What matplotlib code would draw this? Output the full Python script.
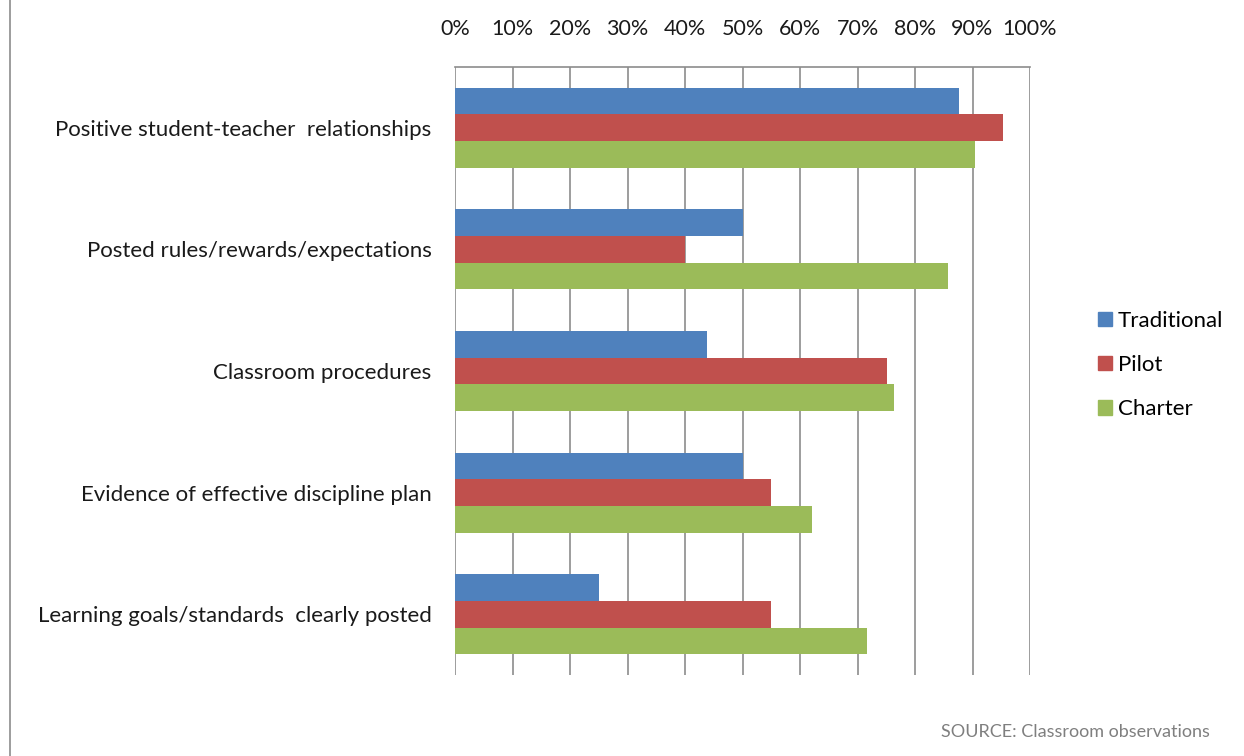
import matplotlib
matplotlib.use("Agg")
import matplotlib.pyplot as plt
import numpy as np
from matplotlib.lines import Line2D

categories = [
    "Positive student-teacher  relationships",
    "Posted rules/rewards/expectations",
    "Classroom procedures",
    "Evidence of effective discipline plan",
    "Learning goals/standards  clearly posted",
]
series_names = ["Traditional", "Pilot", "Charter"]
traditional = [87.6, 50.0, 43.8, 50.0, 25.1]
pilot = [95.3, 40.0, 75.1, 54.9, 54.9]
charter = [90.5, 85.7, 76.4, 62.0, 71.7]
x_ticks = [0, 10, 20, 30, 40, 50, 60, 70, 80, 90, 100]
x_tick_labels = [f"{t}%" for t in x_ticks]
source_note = "SOURCE: Classroom observations"

colors = ["#4F81BD", "#C0504D", "#9BBB59"]
font = ["Lato", "DejaVu Sans"]
plt.rcParams["font.family"] = font

W, H = 1244, 756
fig = plt.figure(figsize=(W / 100, H / 100), dpi=100)
ax = fig.add_axes([455 / W, 1 - 675 / H, (1030 - 455) / W, (675 - 67) / H])

n = len(categories)
bar_h = 1 / 4.55
y_center = np.arange(n)
for i, (vals, name, col) in enumerate(zip([traditional, pilot, charter], series_names, colors)):
    ax.barh(y_center + (i - 1) * bar_h, vals, height=bar_h, color=col, label=name, zorder=3)

ax.set_xlim(0, 100)
ax.set_ylim(n - 0.5, -0.5)
ax.set_xticks(x_ticks)
ax.set_xticklabels(x_tick_labels, fontsize=15.5, color="#1a1a1a")
ax.xaxis.tick_top()
ax.tick_params(axis="x", length=0, pad=20)
ax.set_yticks(y_center)
ax.set_yticklabels(categories, fontsize=16, color="#1a1a1a")
ax.tick_params(axis="y", length=0, pad=17)
ax.grid(axis="x", color="#8c8c8c", linewidth=1.2, zorder=0)
for s in ["bottom", "right", "left"]:
    ax.spines[s].set_visible(False)
ax.spines["top"].set_color("#8c8c8c")
ax.spines["top"].set_linewidth(1.2)

handles = [plt.Rectangle((0, 0), 1, 1, color=c) for c in colors]
fig.legend(handles, series_names, loc="center left", bbox_to_anchor=(1098 / W, 1 - 365 / H),
           frameon=False, fontsize=16, handlelength=0.62, handleheight=0.62,
           handletextpad=0.28, labelspacing=1.1, borderpad=0, borderaxespad=0)

fig.text(1210 / W, 1 - 732 / H, source_note, ha="right", va="center", fontsize=13, color="#7f7f7f")
fig.add_artist(Line2D([9.5 / W, 9.5 / W], [0, 1], color="#8c8c8c", linewidth=1.2))

fig.savefig("out.png", dpi=100, facecolor="white")
